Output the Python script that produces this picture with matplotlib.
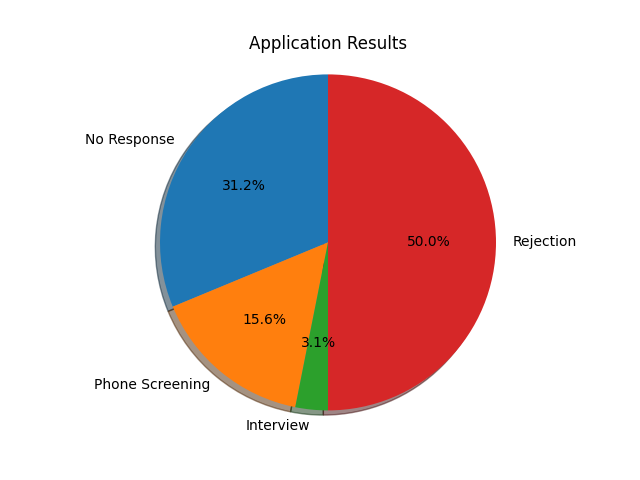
import matplotlib
matplotlib.use('Agg')
import matplotlib.pyplot as plt

labels = ['No Response', 'Phone Screening', 'Interview', 'Rejection']
counts = [10, 5, 1, 16]

fig, ax = plt.subplots(figsize=(6.4, 4.8), dpi=100)
ax.pie(counts, labels=labels, autopct='%1.1f%%', shadow=True, startangle=90)
ax.set_ylim(-1.1, 1.1)
ax.set_xlim(-1.1, 1.1)
ax.set_aspect('equal')
ax.set_title('Application Results')
plt.savefig('out.png')
